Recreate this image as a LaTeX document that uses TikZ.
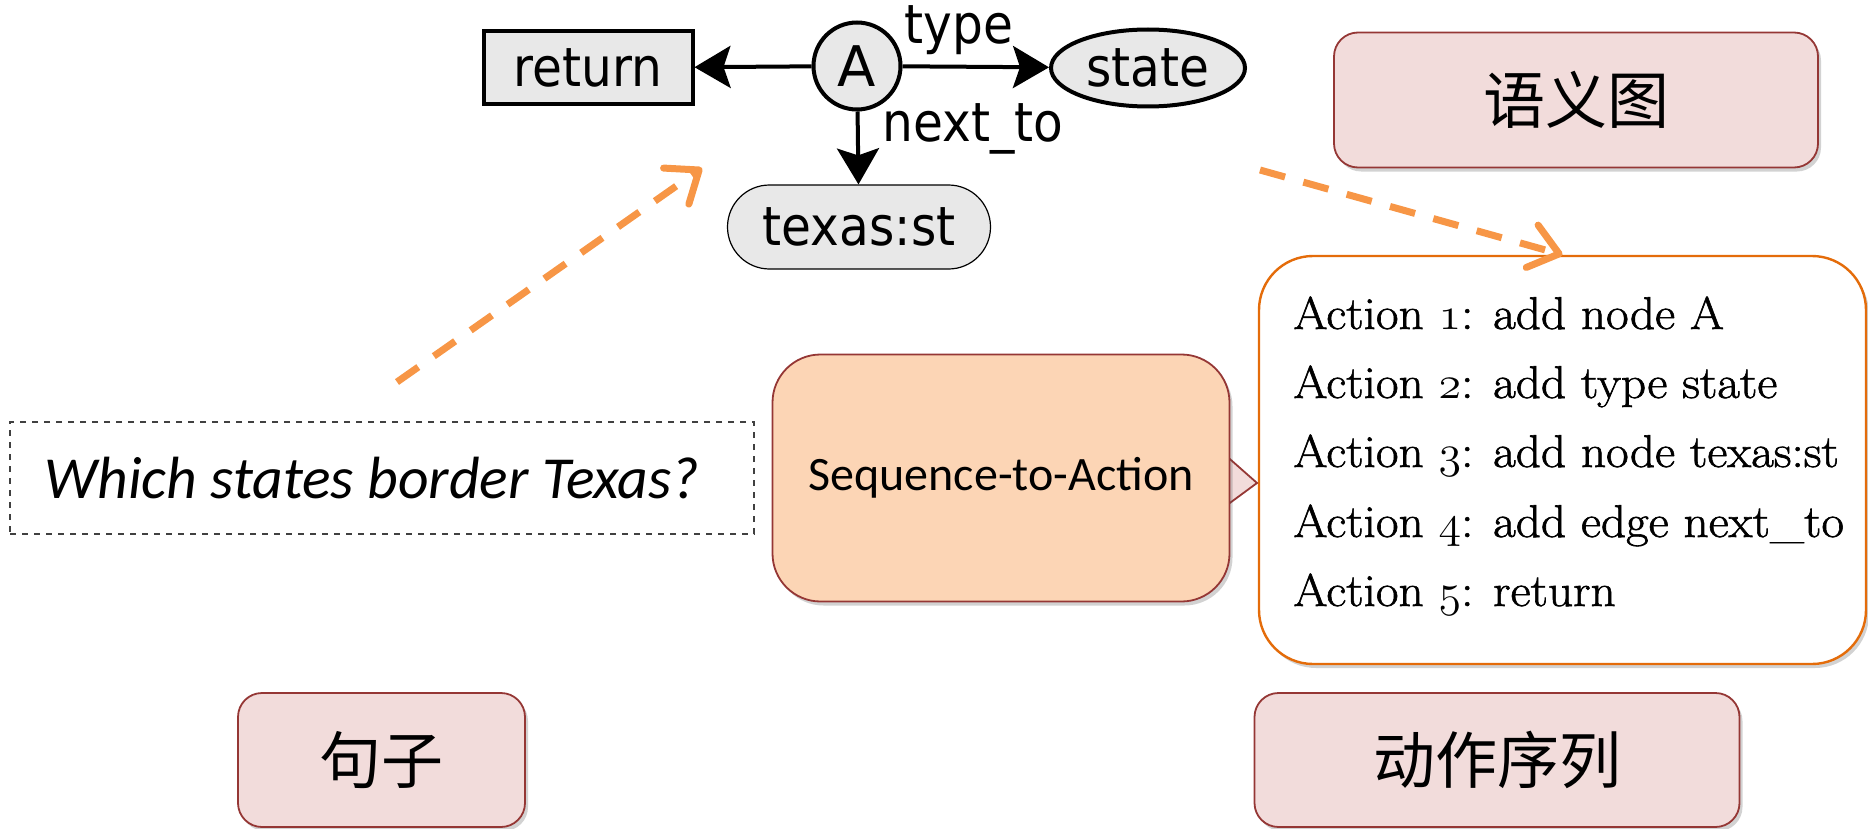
\documentclass[tikz,border=0pt]{standalone}
\usepackage{fix-cm}
\usepackage{fontspec}
\usetikzlibrary{arrows.meta,shapes.geometric,shadows,calc}
\newfontfamily\gvfont{DejaVu Sans}[FakeStretch=0.9]
\newfontfamily\gvplain{DejaVu Sans}
\newfontfamily\calfont{Carlito}
\newfontfamily\cjk{Noto Sans CJK SC}
\newfontfamily\actfont{Latin Modern Roman}[FakeBold=1.3,FakeStretch=1.07]
\newcommand\osn[1]{$\mathnormal{#1}$}
\definecolor{nodegray}{HTML}{E8E8E8}
\definecolor{dashorange}{HTML}{F79646}
\definecolor{boxorange}{HTML}{E46C0A}
\definecolor{pinkfill}{HTML}{F2DCDB}
\definecolor{darkred}{HTML}{953735}
\definecolor{peach}{HTML}{FCD5B5}
\begin{document}
\begin{tikzpicture}[x=0.5pt,y=-0.5pt,
  gvnode/.style={fill=nodegray, draw=black, line width=2pt, inner sep=0pt,
    font=\gvfont\fontsize{27}{30}\selectfont},
  gvedge/.style={line width=2pt, -{Stealth[length=18pt,width=21pt,inset=3.5pt]}},
  gvlabel/.style={font=\gvfont\fontsize{27}{30}\selectfont, inner sep=0pt},
  softshadow/.style={drop shadow={shadow xshift=1.5pt, shadow yshift=-2pt, opacity=0.25, fill=black!70}},
  tagbox/.style={rounded corners=12pt, fill=pinkfill, draw=darkred, line width=0.9pt,
    font=\cjk\fontsize{31}{34}\selectfont, softshadow},
  flowarrow/.style={draw=dashorange, line width=3.5pt, dash pattern=on 13pt off 9.5pt,
    -{Straight Barb[length=14pt,width=22pt,round]}},
  actline/.style={anchor=base west, inner sep=0pt, font=\actfont\fontsize{23}{26}\selectfont},
]
\useasboundingbox (0,0) rectangle (1868,829);

% semantic graph
\node[gvnode, rectangle, minimum width=104.5pt, minimum height=36.5pt] (ret) at (588,68) {return};
\node[gvnode, circle, minimum size=43.5pt, font=\gvplain\fontsize{28}{30}\selectfont] (A) at (857,66) {A};
\node[gvnode, ellipse, minimum width=97pt, minimum height=38.5pt] (state) at (1148,68) {state};
\node[gvnode, rounded corners=21pt, line width=0.6pt, minimum width=131.5pt, minimum height=42pt] (texas) at (859,227) {texas:st};
\draw[gvedge] (A) -- (ret);
\draw[gvedge] (A) -- (state);
\draw[gvedge] (A) -- (texas);
\node[gvlabel] (typelbl) at (959,30) {type};
\node[gvlabel] (nextlbl) at (973,129) {next\_to};

% input sentence
\node[draw=black!75, dashed, line width=0.6pt, minimum width=372pt, minimum height=56pt] (question) at (382,478) {};
\node[inner sep=0pt, font=\calfont\itshape\fontsize{29.8}{32}\selectfont] (qtext) at (372,478) {Which states border Texas?};

% action list
\node[draw=boxorange, line width=1.2pt, fill=white, rounded corners=27pt,
  minimum width=303.5pt, minimum height=204pt, softshadow] (act) at (1562.5,460) {};
\node[actline] (a1) at (1293,329) {Action \osn{1}: add node A};
\node[actline] (a2) at (1293,398) {Action \osn{2}: add type state};
\node[actline] (a3) at (1293,467) {Action \osn{3}: add node texas:st};
\node[actline] (a4) at (1293,537) {Action \osn{4}: add edge next\_to};
\node[actline] (a5) at (1293,606) {Action \osn{5}: return};

% model block with its output pointer
\coordinate (seqc) at (1001,478);
\draw[fill=pinkfill, draw=darkred, line width=0.9pt]
  ($(seqc)+(222,-25)$) -- ($(seqc)+(256,5)$) -- ($(seqc)+(222,30)$) -- cycle;
\node[rounded corners=24pt, fill=peach, draw=darkred, line width=0.9pt,
  minimum width=228.5pt, minimum height=123.5pt, softshadow,
  font=\calfont\fontsize{24}{28}\selectfont] (seq) at (seqc) {Sequence-to-Action};

% labels
\node[tagbox, minimum width=242pt, minimum height=67.5pt] (tgraph) at (1576,100) {语义图};
\node[tagbox, minimum width=143.5pt, minimum height=67pt] (tsent) at (381.5,760) {句子};
\node[tagbox, minimum width=242.5pt, minimum height=67pt] (tact) at (1497,760) {动作序列};

% dashed flow arrows
\coordinate (f1s) at (397,382);
\coordinate (f1e) at (702,168);
\coordinate (f2s) at (1260,170);
\draw[flowarrow] (f1s) -- (f1e);
\draw[flowarrow] (f2s) -- (act.north);
\end{tikzpicture}
\end{document}
